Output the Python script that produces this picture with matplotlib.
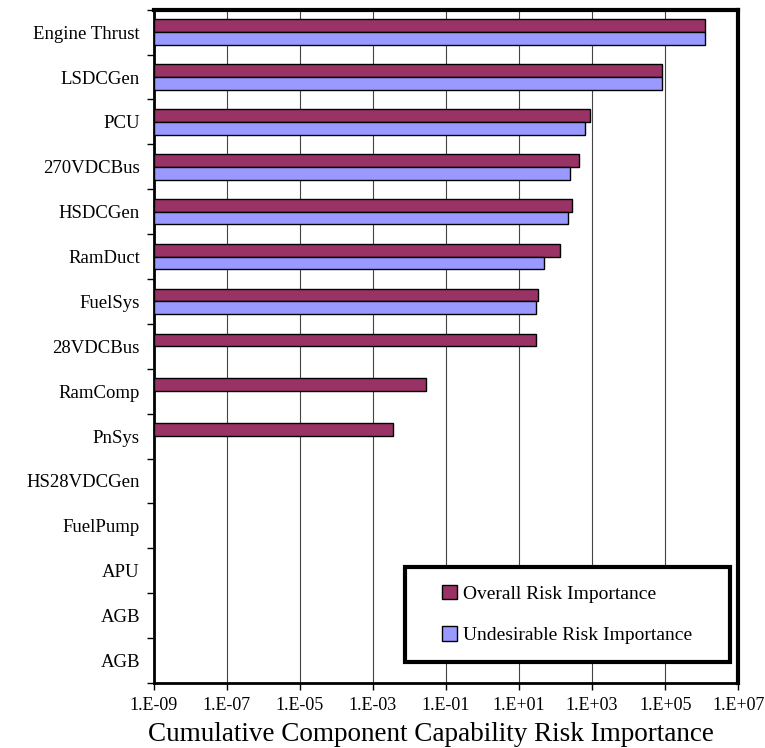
import matplotlib
matplotlib.use("Agg")
import matplotlib.pyplot as plt
from matplotlib.patches import Rectangle
import numpy as np

plt.rcParams['font.family'] = ['Liberation Serif', 'DejaVu Serif']

components = ["Engine Thrust", "LSDCGen", "PCU", "270VDCBus", "HSDCGen", "RamDuct",
              "FuelSys", "28VDCBus", "RamComp", "PnSys", "HS28VDCGen", "FuelPump",
              "APU", "AGB", "AGB"]
overall = [1.2e6, 8.3e4, 890, 430, 275, 129, 33, 29, 0.028, 0.0036,
           np.nan, np.nan, np.nan, np.nan, np.nan]
undesirable = [1.2e6, 8.3e4, 630, 255, 213, 47, 30, np.nan, np.nan, np.nan,
               np.nan, np.nan, np.nan, np.nan, np.nan]
xticks = [1e-9, 1e-7, 1e-5, 1e-3, 1e-1, 1e1, 1e3, 1e5, 1e7]
xticklabels = ["1.E-09", "1.E-07", "1.E-05", "1.E-03", "1.E-01",
               "1.E+01", "1.E+03", "1.E+05", "1.E+07"]

fig = plt.figure(figsize=(7.65, 7.48), dpi=100)
ax = fig.add_axes([0.201, 0.087, 0.764, 0.900])
ax.set_xscale('log')

y = np.arange(len(components))
h = 0.285
base = 1e-9
ov = np.array(overall) - base
un = np.array(undesirable) - base
ax.barh(y - h / 2, ov, height=h, left=base, color='#993366', edgecolor='black',
        linewidth=1.0, label='Overall Risk Importance', zorder=3)
ax.barh(y + h / 2, un, height=h, left=base, color='#9999FF', edgecolor='black',
        linewidth=1.0, label='Undesirable Risk Importance', zorder=3)

ax.set_xlim(1e-9, 1e7)
ax.set_ylim(len(components) - 0.5, -0.5)
ax.set_xticks(xticks)
ax.set_xticklabels(xticklabels, fontsize=13)
ax.xaxis.set_minor_locator(matplotlib.ticker.NullLocator())
ax.tick_params(axis='x', direction='out', length=5, width=1, pad=5)

ax.set_yticks(y)
ax.set_yticklabels(components, fontsize=13.5)
ax.tick_params(axis='y', which='major', length=0, pad=10)
ax.set_yticks(np.arange(len(components) + 1) - 0.5, minor=True)
ax.tick_params(axis='y', which='minor', direction='out', length=5, width=1)

ax.grid(axis='x', which='major', color='#444444', linewidth=0.8, zorder=0)
ax.set_axisbelow(True)

for side in ['left', 'bottom']:
    ax.spines[side].set_linewidth(2)
for side in ['top', 'right']:
    ax.spines[side].set_linewidth(3)

ax.set_xlabel("Cumulative Component Capability Risk Importance", fontsize=19.5)
ax.xaxis.set_label_coords(0.474, -0.058)

# legend box
box = Rectangle((0.430, 0.031), 0.556, 0.141, transform=ax.transAxes,
                facecolor='white', edgecolor='black', linewidth=3, zorder=4)
ax.add_patch(box)
leg = ax.legend(loc='center left', bbox_to_anchor=(0.494, 0.1015), fontsize=14,
                frameon=False, handlelength=0.75, handleheight=0.75,
                handletextpad=0.3, labelspacing=1.2, borderpad=0, borderaxespad=0)
leg.set_zorder(5)

fig.savefig("out.png", dpi=100)
